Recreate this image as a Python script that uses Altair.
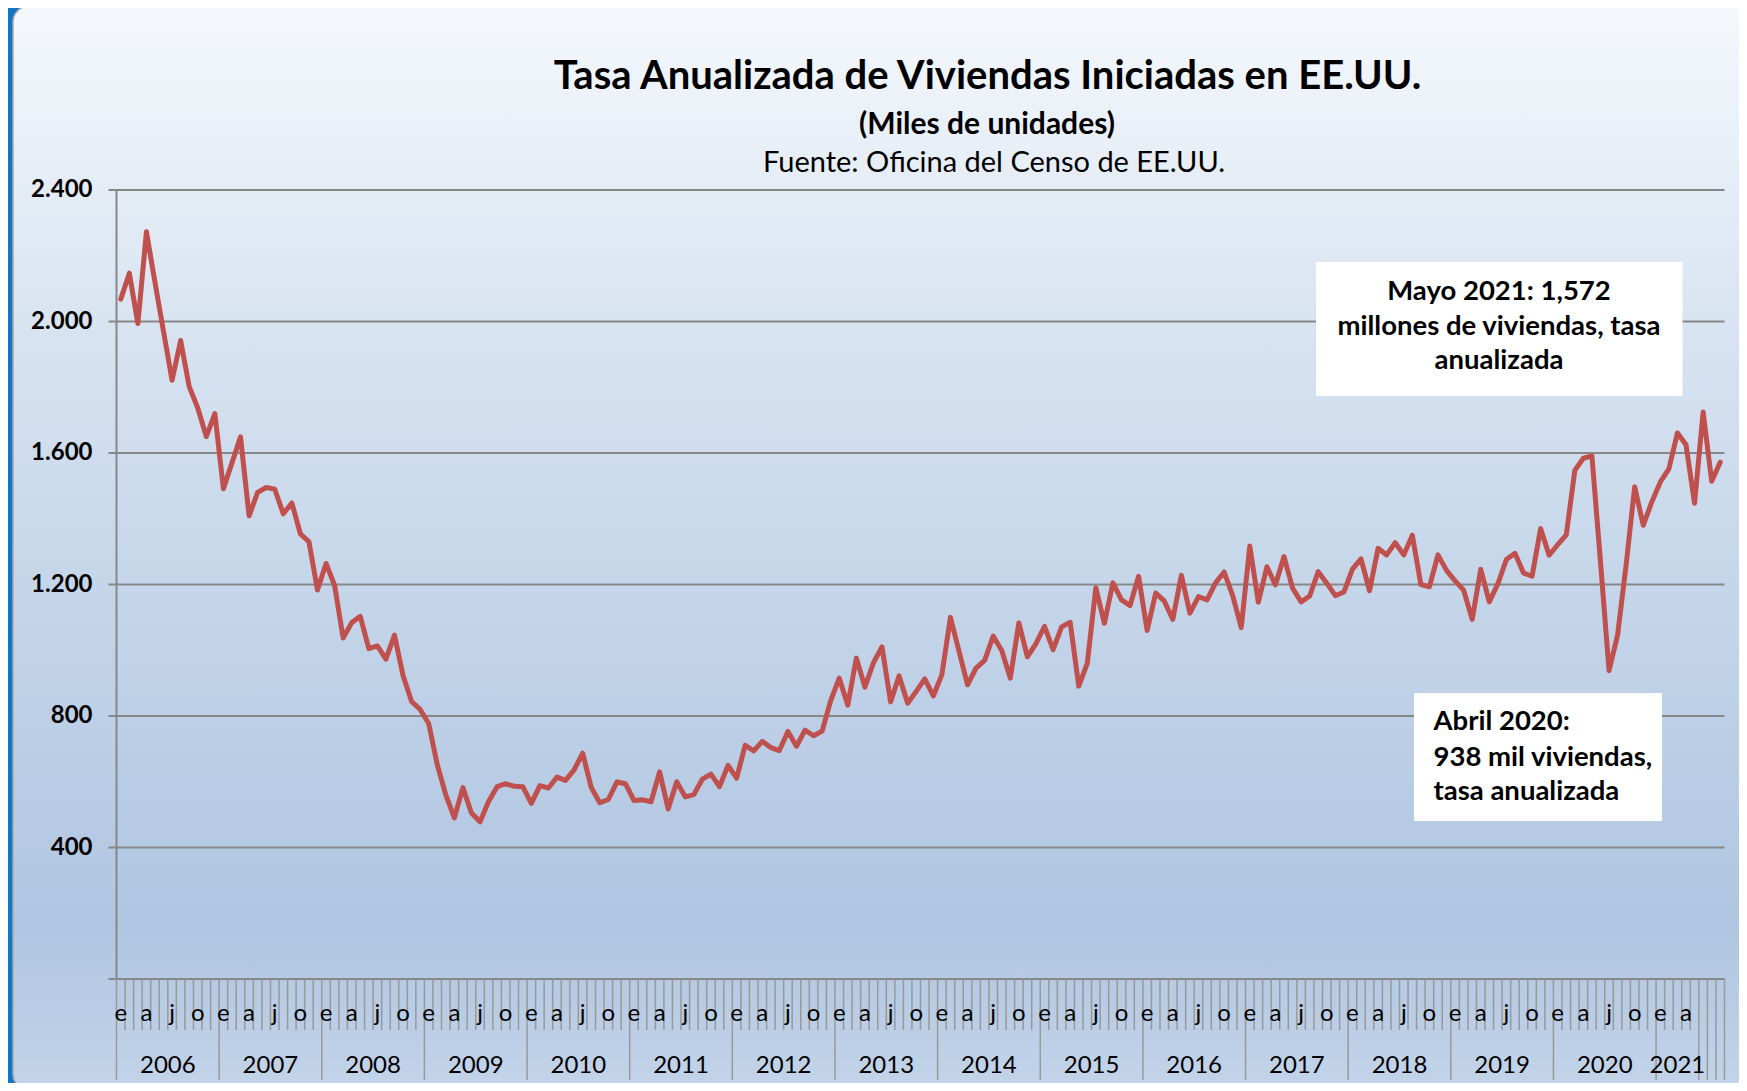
import altair as alt
import pandas as pd

# Monthly housing starts, SAAR (thousands), Oct 2005 .. May 2021
values = [
    2068, 2147, 1994,
    2273, 2119, 1969, 1821, 1942, 1802, 1737, 1650, 1720, 1491, 1570, 1649,
    1409, 1480, 1495, 1490, 1415, 1448, 1354, 1330, 1183, 1264, 1197, 1037,
    1084, 1103, 1005, 1013, 973, 1046, 923, 844, 820, 777, 652, 560,
    490, 582, 505, 478, 540, 585, 594, 586, 585, 534, 588, 581,
    614, 604, 636, 687, 583, 536, 546, 599, 594, 543, 545, 539,
    630, 517, 600, 554, 561, 608, 623, 585, 650, 611, 711, 694,
    723, 704, 695, 753, 708, 757, 740, 754, 847, 915, 833, 976,
    888, 962, 1010, 843, 922, 839, 875, 913, 861, 926, 1100, 997,
    895, 946, 969, 1043, 999, 915, 1083, 980, 1020, 1073, 1002, 1071,
    1085, 891, 960, 1190, 1082, 1205, 1153, 1136, 1225, 1060, 1174, 1150,
    1094, 1228, 1113, 1163, 1153, 1205, 1238, 1166, 1069, 1317, 1146, 1254,
    1199, 1285, 1189, 1147, 1165, 1239, 1204, 1166, 1177, 1247, 1278, 1181,
    1310, 1290, 1327, 1290, 1350, 1200, 1193, 1290, 1243, 1211, 1183, 1094,
    1246, 1147, 1202, 1276, 1295, 1235, 1225, 1370, 1289, 1321, 1351, 1547,
    1584, 1591, 1269, 938, 1046, 1260, 1497, 1380, 1451, 1512, 1552, 1661,
    1625, 1447, 1725, 1514, 1572,
]
month_letters = ["e", "a", "j", "o"]
years = [2006, 2007, 2008, 2009, 2010, 2011, 2012, 2013, 2014, 2015,
         2016, 2017, 2018, 2019, 2020, 2021]
y_ticks = [400, 800, 1200, 1600, 2000, 2400]
y_tick_labels = ["400", "800", "1.200", "1.600", "2.000", "2.400"]

N_CAT = 188          # number of category slots on the x axis
N_LABELED = 185      # slots that belong to labelled year groups
W, H = 1608, 789
FONT = "Lato"

xscale = alt.Scale(domain=[0, N_CAT], nice=False, zero=False)
yscale = alt.Scale(domain=[0, 2400], nice=False, zero=True)

line_df = pd.DataFrame({"pos": [i + 0.5 for i in range(len(values))], "value": values})

month_rows = []
for i in range(N_LABELED):
    m = i % 12
    if m % 3 == 0:
        month_rows.append({"pos": i + 0.5, "lab": month_letters[m // 3]})
month_df = pd.DataFrame(month_rows)

year_rows = []
for y in years:
    start = (y - years[0]) * 12
    end = min(start + 12, N_LABELED)
    year_rows.append({"pos": (start + end) / 2, "lab": str(y)})
year_df = pd.DataFrame(year_rows)

long_bounds = [k * 12 for k in range(16)] + list(range(N_LABELED, N_CAT + 1))
short_bounds = [b for b in range(N_CAT + 1) if b not in long_bounds]
short_df = pd.DataFrame({"b": short_bounds})
long_df = pd.DataFrame({"b": long_bounds})

grid_df = pd.DataFrame({"v": [0] + y_ticks})
ylab_df = pd.DataFrame({"v": y_ticks, "lab": y_tick_labels})
one = pd.DataFrame({"a": [0]})

grad = alt.LinearGradient(
    gradient="linear",
    stops=[
        alt.GradientStop(color="#F5F8FC", offset=0),
        alt.GradientStop(color="#D3E0EF", offset=0.35),
        alt.GradientStop(color="#AFC5E1", offset=0.85),
        alt.GradientStop(color="#C3D4E9", offset=1),
    ],
    x1=0, x2=0, y1=0, y2=1,
)

bg = alt.Chart(one).mark_rect(
    fill=grad, stroke="#A8A8A8", strokeWidth=1.5, cornerRadius=16
).encode(
    x=alt.value(-103.5), x2=alt.value(W + 200), y=alt.value(-184), y2=alt.value(H + 111)
)

grid = alt.Chart(grid_df).mark_rule(color="#878787", strokeWidth=2).encode(
    y=alt.Y("v:Q", scale=yscale, axis=None), x=alt.value(-8), x2=alt.value(W)
)

yaxis = alt.Chart(one).mark_rule(color="#878787", strokeWidth=2).encode(
    x=alt.value(0), y=alt.value(0), y2=alt.value(H)
)

short_ticks = alt.Chart(short_df).mark_rule(color="#999999", strokeWidth=1.5).encode(
    x=alt.X("b:Q", scale=xscale, axis=None), y=alt.value(H), y2=alt.value(H + 51)
)
long_ticks = alt.Chart(long_df).mark_rule(color="#999999", strokeWidth=1.5).encode(
    x=alt.X("b:Q", scale=xscale, axis=None), y=alt.value(H), y2=alt.value(H + 101)
)

line = alt.Chart(line_df).mark_line(
    color="#C0504D", strokeWidth=5, strokeJoin="round", strokeCap="round"
).encode(
    x=alt.X("pos:Q", scale=xscale, axis=None),
    y=alt.Y("value:Q", scale=yscale, axis=None),
)

month_text = alt.Chart(month_df).mark_text(
    font=FONT, fontSize=24, color="black", baseline="middle", align="center"
).encode(x=alt.X("pos:Q", scale=xscale, axis=None), y=alt.value(H + 35), text="lab:N")

year_text = alt.Chart(year_df).mark_text(
    font=FONT, fontSize=24, color="black", baseline="middle", align="center"
).encode(x=alt.X("pos:Q", scale=xscale, axis=None), y=alt.value(H + 87), text="lab:N")

ylab_text = alt.Chart(ylab_df).mark_text(
    font=FONT, fontSize=24, fontWeight="bold", color="black", baseline="middle", align="right"
).encode(y=alt.Y("v:Q", scale=yscale, axis=None), x=alt.value(-24), text="lab:N")


def txt(s, x, y, size, bold=False, align="center"):
    return alt.Chart(one).mark_text(
        text=s, font=FONT, fontSize=size, fontWeight="bold" if bold else "normal",
        align=align, baseline="middle", color="black"
    ).encode(x=alt.value(x), y=alt.value(y))


def box(x1, x2, y1, y2):
    return alt.Chart(one).mark_rect(fill="white").encode(
        x=alt.value(x1), x2=alt.value(x2), y=alt.value(y1), y2=alt.value(y2)
    )


layers = [
    bg, grid, yaxis, short_ticks, long_ticks, line,
    month_text, year_text, ylab_text,
    txt("Tasa Anualizada de Viviendas Iniciadas en EE.UU.", 871, -113, 40, bold=True),
    txt("(Miles de unidades)", 870.5, -65, 30, bold=True),
    txt("Fuente: Oficina del Censo de EE.UU.", 877.5, -27, 29),
    box(1199.5, 1566, 72, 206),
    txt("Mayo 2021: 1,572", 1382.5, 102, 27.5, bold=True),
    txt("millones de viviendas, tasa", 1382.5, 137, 27.5, bold=True),
    txt("anualizada", 1382.5, 171, 27.5, bold=True),
    box(1297.5, 1545.5, 503, 631),
    txt("Abril 2020:", 1317, 532, 27.5, bold=True, align="left"),
    txt("938 mil viviendas,", 1317, 568, 27.5, bold=True, align="left"),
    txt("tasa anualizada", 1317, 602, 27.5, bold=True, align="left"),
]

chart = alt.layer(*layers).properties(
    width=W, height=H,
    autosize=alt.AutoSizeParams(type="none"),
    padding={"left": 108.5, "top": 182, "right": 14.5, "bottom": 104},
    background="#1276C4",
).configure_view(stroke=None)

chart.save("out.html", embed_options={"renderer": "svg", "actions": False})
